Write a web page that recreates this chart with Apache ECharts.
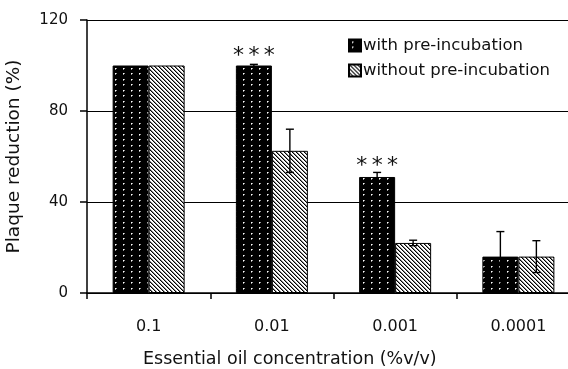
<!DOCTYPE html>
<html><head><meta charset="utf-8">
<script src="https://cdn.jsdelivr.net/npm/echarts@6/dist/echarts.min.js"></script>
<style>html,body{margin:0;padding:0;background:#fff}#c{width:568px;height:369px}</style>
</head><body><div id="c"></div>
<script>
// ---- data ----
const categories = ['0.1', '0.01', '0.001', '0.0001'];
const withPre = [100, 100, 51, 16];
const withoutPre = [100, 62.5, 22, 16];
const withErr = [0, 0.5, 2, 11];
const withoutErr = [0, 9.5, 1.2, 7];
const significance = ['', '*\u2009*\u2009*', '*\u2009*\u2009*', ''];
const yMin = 0, yMax = 120, yStep = 40;
const seriesNames = ['with pre-incubation', 'without pre-incubation'];
const xTitle = 'Essential oil concentration (%v/v)';
const yTitle = 'Plaque reduction (%)';

// ---- patterns ----
function dotPattern() {
  const c = document.createElement('canvas'); c.width = 8; c.height = 11;
  const g = c.getContext('2d');
  g.fillStyle = '#000'; g.fillRect(0, 0, 8, 11);
  g.fillStyle = '#fff'; g.fillRect(3, 2, 1, 1); g.fillRect(3, 7, 1, 1);
  g.fillStyle = '#999';
  g.fillRect(4, 2, 1, 1); g.fillRect(3, 3, 1, 1); g.fillRect(4, 7, 1, 1); g.fillRect(3, 8, 1, 1);
  return c;
}
function hatchPattern() {
  const c = document.createElement('canvas'); c.width = 4; c.height = 4;
  const g = c.getContext('2d');
  g.fillStyle = '#fff'; g.fillRect(0, 0, 4, 4);
  g.fillStyle = '#000';
  for (let i = 0; i < 4; i++) g.fillRect(i, i, 1, 1);
  g.fillStyle = '#888';
  for (let i = 0; i < 4; i++) g.fillRect((i + 1) % 4, i, 1, 1);
  return c;
}
const dotFill = { image: dotPattern(), repeat: 'repeat' };
const hatchFill = { image: hatchPattern(), repeat: 'repeat' };

const BAR_W = 36;
const FONT = 'DejaVu Sans';
const TXT = '#111';

function errSeries(name, vals, errs, side) {
  return {
    type: 'custom', name: name + ' err', z: 5, silent: true,
    data: vals.map((v, i) => [i, v, errs[i]]),
    renderItem: function (params, api) {
      const i = api.value(0), v = api.value(1), e = api.value(2);
      if (!e) return null;
      const xc = api.coord([i, v])[0] + side * BAR_W / 2;
      const top = api.coord([i, v + e])[1];
      const bot = api.coord([i, v - e])[1];
      const cap = 4;
      const st = { stroke: '#000', lineWidth: 1.4 };
      return { type: 'group', children: [
        { type: 'line', shape: { x1: xc, y1: top, x2: xc, y2: bot }, style: st },
        { type: 'line', shape: { x1: xc - cap, y1: top, x2: xc + cap, y2: top }, style: st },
        { type: 'line', shape: { x1: xc - cap, y1: bot, x2: xc + cap, y2: bot }, style: st }
      ]};
    }
  };
}

const chart = echarts.init(document.getElementById('c'), null, { renderer: 'canvas' });
chart.setOption({
  animation: false,
  backgroundColor: '#fff',
  textStyle: { fontFamily: FONT, color: TXT },
  grid: { left: 87, top: 20, width: 493, height: 273, containLabel: false, outerBoundsMode: 'none' },
  legend: {
    orient: 'vertical', left: 343, top: 32, itemWidth: 12, itemHeight: 12, itemGap: 8,
    icon: 'rect', data: seriesNames,
    textStyle: { fontFamily: FONT, fontSize: 16.5, color: TXT, padding: [0, 0, 0, -3] }
  },
  xAxis: {
    type: 'category', data: categories,
    axisLine: { lineStyle: { color: '#000', width: 1.5 } },
    axisTick: { show: true, length: 6, lineStyle: { color: '#000', width: 1.5 } },
    axisLabel: { fontFamily: FONT, fontSize: 16, color: TXT, margin: 26 },
    splitLine: { show: false }
  },
  yAxis: {
    type: 'value', min: yMin, max: yMax, interval: yStep,
    name: yTitle, nameLocation: 'middle', nameGap: 63, nameRotate: 90,
    nameTextStyle: { fontFamily: FONT, fontSize: 18.5, color: TXT },
    axisLine: { show: true, lineStyle: { color: '#000', width: 1.5 } },
    axisTick: { show: true, inside: false, length: 7, lineStyle: { color: '#000', width: 1.5 } },
    axisLabel: { fontFamily: FONT, fontSize: 15, color: TXT, margin: 19 },
    splitLine: { show: true, lineStyle: { color: '#000', width: 1.2 } }
  },
  graphic: [{
    type: 'text', left: 143, top: 350,
    style: { text: xTitle, font: '17.5px "DejaVu Sans"', fill: TXT }
  }],
  series: [
    {
      name: seriesNames[0], type: 'bar', barWidth: BAR_W, barGap: '0%', z: 3,
      itemStyle: { color: dotFill, borderColor: '#000', borderWidth: 1 },
      data: withPre.map((v, i) => significance[i] ? {
        value: v,
        label: { show: true, position: 'top', distance: withErr[i] - 2.5,
                 formatter: significance[i], fontFamily: FONT, fontSize: 22, color: TXT }
      } : v)
    },
    {
      name: seriesNames[1], type: 'bar', barWidth: BAR_W, barGap: '0%', z: 3,
      itemStyle: { color: hatchFill, borderColor: '#000', borderWidth: 1 },
      data: withoutPre
    },
    errSeries(seriesNames[0], withPre, withErr, -1),
    errSeries(seriesNames[1], withoutPre, withoutErr, 1)
  ]
});
</script></body></html>
